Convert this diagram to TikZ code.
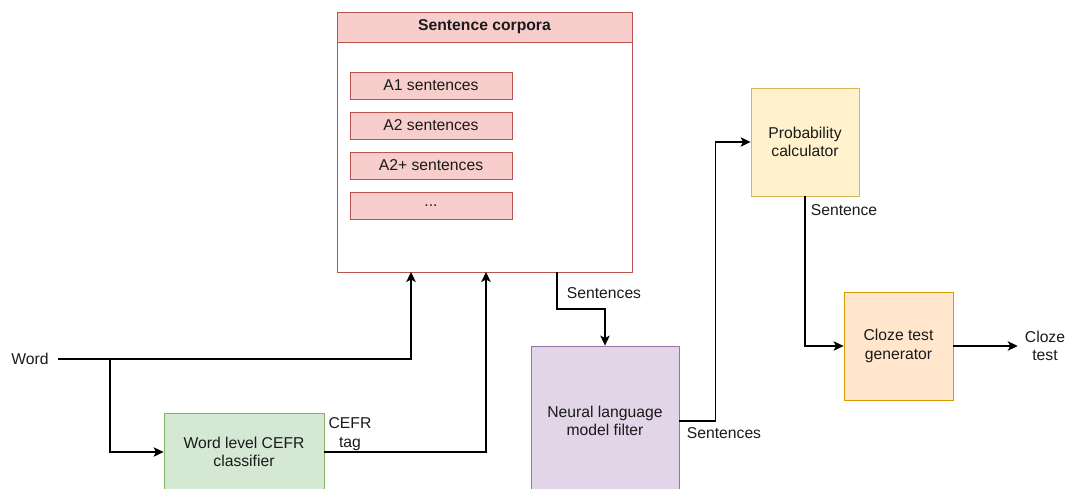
\documentclass[tikz,border=0pt]{standalone}
\usepackage{fontspec}
\setmainfont{Liberation Sans}
\usetikzlibrary{arrows.meta}
\definecolor{redfill}{HTML}{F8CECC}\definecolor{redline}{HTML}{B85450}
\definecolor{greenfill}{HTML}{D5E8D4}\definecolor{greenline}{HTML}{82B366}
\definecolor{purplefill}{HTML}{E1D5E7}\definecolor{purpleline}{HTML}{9673A6}
\definecolor{yellowfill}{HTML}{FFF2CC}\definecolor{yellowline}{HTML}{D6B656}
\definecolor{orangefill}{HTML}{FFE6CC}\definecolor{orangeline}{HTML}{D79B00}
\definecolor{txt}{HTML}{1A1A1A}
\tikzset{
  every node/.style={font=\fontsize{15.7}{18.7}\selectfont, text=txt},
  box/.style={draw, line width=0.9pt, align=center, inner sep=0pt},
  redbox/.style={box, fill=redfill, draw=redline},
  sentbox/.style={redbox, minimum width=162pt, minimum height=27pt},
  lbl/.style={align=center, inner sep=0pt},
  arr/.style={line width=1.1pt, draw=black, -{Stealth[length=10pt,width=9.5pt,inset=2.5pt]}},
}
\begin{document}
\begin{tikzpicture}[x=1pt,y=-1pt]
\useasboundingbox (0,0) rectangle (1065,488);
\clip (0,0) rectangle (1065,488);
% sentence corpora container
\node[box, draw=redline, fill=white, minimum width=295pt, minimum height=260pt] (corp) at (484.5,142) {};
\node[redbox, anchor=north, minimum width=295pt, minimum height=30pt, font=\fontsize{15.7}{18.7}\selectfont\bfseries] (head) at (corp.north) {Sentence corpora};
\node[sentbox] (a1) at (431,85.5) {A1 sentences};
\node[sentbox] (a2) at (431,125.5) {A2 sentences};
\node[sentbox] (a2p) at (431,165.5) {A2+ sentences};
\node[sentbox] (dots) at (431,205.5) {...};
% other boxes
\node[box, fill=greenfill, draw=greenline, minimum width=160pt, minimum height=78pt] (cefr) at (244,452) {Word level CEFR\\classifier};
\node[box, fill=purplefill, draw=purpleline, minimum width=148pt, minimum height=150pt] (nlm) at (605,421) {Neural language\\model filter};
\node[box, fill=yellowfill, draw=yellowline, minimum width=108pt, minimum height=108pt] (prob) at (805,142) {Probability\\calculator};
\node[box, fill=orangefill, draw=orangeline, minimum width=109pt, minimum height=108pt] (cloze) at (898.5,346) {Cloze test\\generator};
% free texts
\node[lbl, inner xsep=9pt] (word) at (30,359) {Word};
\node[lbl, inner xsep=7pt] (out) at (1045,346) {Cloze\\test};
% edge labels
\node[lbl] (lcefr) at (350,434) {CEFR\\tag};
\node[lbl] (lsent1) at (604,293) {Sentences};
\node[lbl] (lsent2) at (724,433) {Sentences};
\node[lbl] (lsent3) at (844,210) {Sentence};
% helper coordinates
\coordinate (in1) at (411,272);
\coordinate (in2) at (486,272);
\coordinate (br) at (110,359);
\coordinate (outc) at (557,272);
\coordinate (t1) at (557,309);
% connectors
\draw[arr] (word.east) -| (in1);
\draw[arr] (br) |- (cefr.west);
\draw[arr] (cefr.east) -| (in2);
\draw[arr] (outc) -- (t1) -| (nlm.north);
\draw[arr] (nlm.east) -- ++(36,0) |- (prob.west);
\draw[arr] (prob.south) |- (cloze.west);
\draw[arr] (cloze.east) -- (out.west);
\end{tikzpicture}
\end{document}
